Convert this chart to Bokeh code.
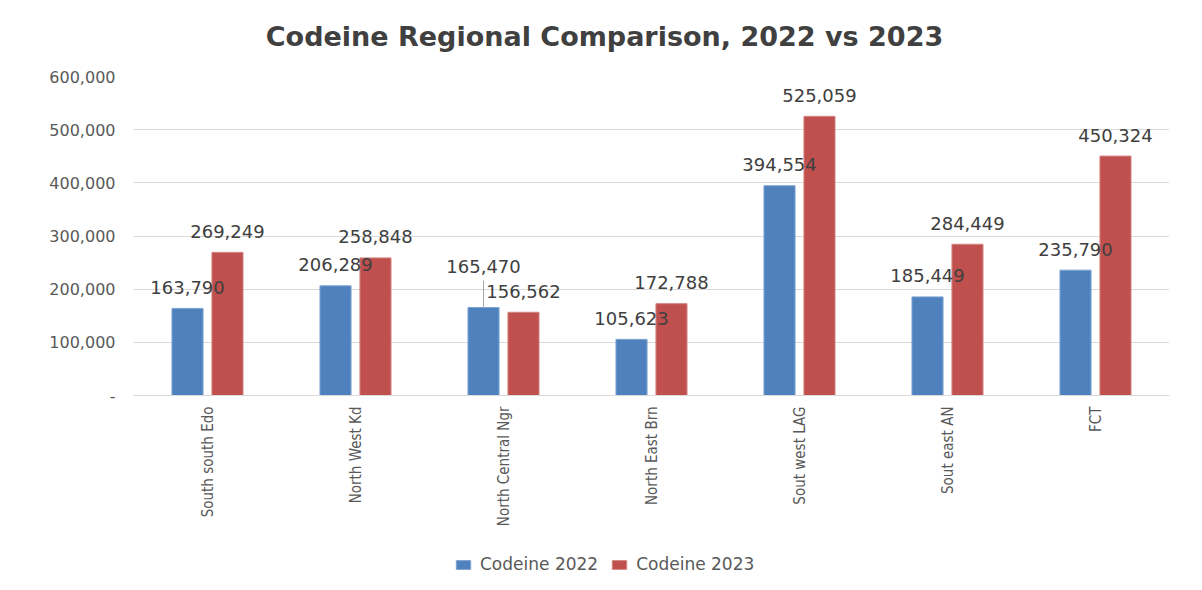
import math
from bokeh.plotting import figure
from bokeh.layouts import column
from bokeh.models import (ColumnDataSource, FixedTicker, NumeralTickFormatter,
                          LabelSet, Label, Legend, LegendItem, FactorRange, Range1d)
from bokeh.transform import dodge
from bokeh.core.properties import value
from bokeh.embed import file_html
from bokeh.resources import INLINE

# ---- data ----
regions = ["South south Edo", "North West Kd", "North Central Ngr",
           "North East Brn", "Sout west LAG", "Sout east AN", "FCT"]
codeine_2022 = [163790, 206289, 165470, 105623, 394554, 185449, 235790]
codeine_2023 = [269249, 258848, 156562, 172788, 525059, 284449, 450324]
y_ticks = [0, 100000, 200000, 300000, 400000, 500000, 600000]
series_names = ["Codeine 2022", "Codeine 2023"]
title_text = "Codeine Regional Comparison, 2022 vs 2023"

# ---- styling ----
BLUE = "#4F81BD"
RED = "#C0504D"
BLUE_EDGE = "#7ea3d2"
RED_EDGE = "#d48583"
GRID = "#d9d9d9"
TXT = "#595959"
DARK = "#404040"
W = 1202
TITLE_H, MAIN_H, LEG_H = 60, 490, 40
LEFT, RIGHT, TOP, BOTTOM = 133, 33, 16, 155
FRAME_H = MAIN_H - TOP - BOTTOM
Y_MAX = 600000
LABEL_LIFT = 21           # px above bar top
EXTRA_LIFT = {"North Central Ngr": 20}   # moved 2022 label (with leader)
TITLE_CX = 604            # page-pixel centre of title
LEGEND_X = 454            # page-pixel left of legend

lift22 = [LABEL_LIFT + EXTRA_LIFT.get(r, 0) for r in regions]
lift23 = [LABEL_LIFT for _ in regions]
px_to_units = Y_MAX / FRAME_H

src = ColumnDataSource(dict(
    region=regions,
    v22=codeine_2022,
    v23=codeine_2023,
    t22=[f"{v:,}" for v in codeine_2022],
    t23=[f"{v:,}" for v in codeine_2023],
    off22=lift22,
    off23=lift23,
))

# ---- title strip (frame aligned with main frame; x in page pixels) ----
pt = figure(width=W, height=TITLE_H, x_range=Range1d(LEFT, W - RIGHT),
            y_range=Range1d(0, TITLE_H),
            output_backend="svg", toolbar_location=None, min_border=0,
            x_axis_location=None, y_axis_location=None)
pt.grid.visible = False
pt.outline_line_color = None
pt.add_layout(Label(x=TITLE_CX, y=TITLE_H - 36, text=title_text, text_align="center",
                    text_baseline="middle", text_font="DejaVu Sans",
                    text_font_size="27px", text_font_style="bold", text_color=DARK))

# ---- main chart ----
p = figure(x_range=FactorRange(*regions, range_padding=0),
           y_range=Range1d(0, Y_MAX),
           width=W, height=MAIN_H, output_backend="svg", toolbar_location=None,
           min_border_left=LEFT, min_border_right=RIGHT,
           min_border_top=TOP, min_border_bottom=BOTTOM)
p.x_range.range_padding = 0
p.background_fill_color = "white"
p.border_fill_color = "white"
p.outline_line_color = None

BW = 0.21
OFF = 0.135
r22 = p.vbar(x=dodge("region", -OFF, range=p.x_range), top="v22", width=BW,
             source=src, fill_color=BLUE, line_color=BLUE_EDGE, line_width=1)
r23 = p.vbar(x=dodge("region", OFF, range=p.x_range), top="v23", width=BW,
             source=src, fill_color=RED, line_color=RED_EDGE, line_width=1)

# leader line for moved label
lead_src = ColumnDataSource(dict(
    region=[r for r in regions if r in EXTRA_LIFT],
    y0=[v for r, v in zip(regions, codeine_2022) if r in EXTRA_LIFT],
    y1=[v + (LABEL_LIFT + EXTRA_LIFT[r] - 14) * px_to_units
        for r, v in zip(regions, codeine_2022) if r in EXTRA_LIFT],
))
p.segment(x0=dodge("region", -OFF, range=p.x_range), y0="y0",
          x1=dodge("region", -OFF, range=p.x_range), y1="y1",
          source=lead_src, line_color="#a6a6a6", line_width=1)

for col, txt, off, d in (("v22", "t22", "off22", -OFF), ("v23", "t23", "off23", OFF)):
    p.add_layout(LabelSet(x=dodge("region", d, range=p.x_range), y=col, text=txt,
                          y_offset=off, source=src, text_align="center",
                          text_baseline="middle", text_font=value("DejaVu Sans"),
                          text_font_size="18px", text_color=DARK))

p.yaxis.ticker = FixedTicker(ticks=y_ticks)
p.yaxis.formatter = NumeralTickFormatter(format="0,0")
p.yaxis.major_label_overrides = {0: "-"}
p.yaxis.axis_line_color = None
p.yaxis.major_tick_line_color = None
p.yaxis.minor_tick_line_color = None
p.yaxis.major_tick_out = 0
p.yaxis.major_tick_in = 0
p.yaxis.major_label_standoff = 18
p.yaxis.major_label_text_font = "DejaVu Sans"
p.yaxis.major_label_text_font_size = "16px"
p.yaxis.major_label_text_color = TXT

p.xaxis.axis_line_color = GRID
p.xaxis.axis_line_width = 1
p.xaxis.major_tick_line_color = None
p.xaxis.minor_tick_line_color = None
p.xaxis.major_tick_out = 0
p.xaxis.major_tick_in = 0
p.xaxis.major_label_orientation = math.pi / 2
p.xaxis.major_label_standoff = 11
p.xaxis.major_label_text_font = "'Liberation Sans Narrow', 'DejaVu Sans Condensed', 'Liberation Sans', sans-serif"
p.xaxis.major_label_text_font_size = "15px"
p.xaxis.major_label_text_color = TXT

p.xgrid.grid_line_color = None
p.ygrid.grid_line_color = GRID
p.ygrid.grid_line_width = 1

# ---- legend strip (key swatches sit outside the visible range) ----
pl = figure(width=W, height=LEG_H, x_range=Range1d(0, 1), y_range=Range1d(0, 1),
            output_backend="svg", toolbar_location=None, min_border=0,
            x_axis_location=None, y_axis_location=None)
pl.grid.visible = False
pl.outline_line_color = None
key_src = ColumnDataSource(dict(x=[-5], top=[-5]))
k22 = pl.vbar(x="x", top="top", bottom=-6, width=0.1, source=key_src,
              fill_color=BLUE, line_color=BLUE_EDGE)
k23 = pl.vbar(x="x", top="top", bottom=-6, width=0.1, source=key_src,
              fill_color=RED, line_color=RED_EDGE)
legend = Legend(items=[LegendItem(label=series_names[0], renderers=[k22]),
                       LegendItem(label=series_names[1], renderers=[k23])],
                orientation="horizontal", location=(LEGEND_X - LEFT, 16),
                padding=0, margin=0, spacing=12, label_standoff=8,
                glyph_width=18, glyph_height=11,
                label_text_font="DejaVu Sans", label_text_font_size="17px",
                label_text_color=TXT, border_line_color=None,
                background_fill_alpha=0)
pl.add_layout(legend, "center")

layout = column(pt, p, pl, spacing=0)
open("out.html", "w").write(file_html(layout, INLINE))
